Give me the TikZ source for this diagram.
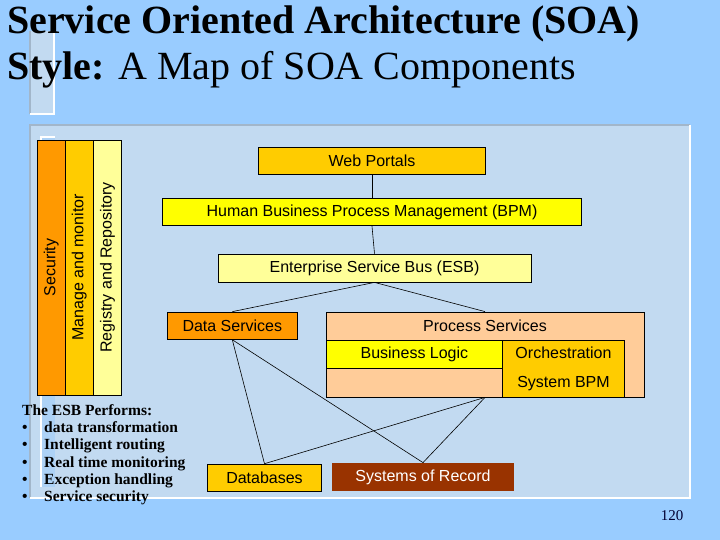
\documentclass[tikz,border=0pt]{standalone}
\usepackage{fontspec}
\setmainfont{Liberation Serif}
\newfontfamily\arialfont{Liberation Sans}
\definecolor{slide}{HTML}{99CCFF}
\definecolor{panel}{HTML}{C2DAF1}
\definecolor{panelrim}{HTML}{A2B6CA}
\definecolor{strip}{HTML}{ADD2F6}
\definecolor{orange}{HTML}{FF9900}
\definecolor{gold}{HTML}{FFCC00}
\definecolor{pale}{HTML}{FFFF99}
\definecolor{lemon}{HTML}{FFFF00}
\definecolor{peach}{HTML}{FFCC99}
\definecolor{brick}{HTML}{993300}
\definecolor{navy}{HTML}{000033}

\begin{document}
\begin{tikzpicture}[x=1pt, y=-1pt,
	box/.style={draw, line width=0.8pt, inner sep=0pt, font=\arialfont\fontsize{16}{18}\selectfont},
	pillar/.style={box, rotate=90, minimum width=255, minimum height=28},
	link/.style={line width=0.6pt}]
	\fill[slide] (0,0) rectangle (720,540);
	\useasboundingbox (0,0) rectangle (720,540);

	\fill[panel] (30,31) rectangle (54,114);
	\draw[panelrim, line width=1.5pt] (30,31) -- (30,114);
	\draw[white, line width=1.5pt] (30,114) -- (54,114) -- (54,31);

	\fill[panel] (30,125) rectangle (690,498);
	\draw[panelrim, line width=2.5pt] (690,125) -- (30,125) -- (30,498);
	\draw[white, line width=2.5pt] (30,498) -- (690,498) -- (690,125);
	\fill[strip] (41,137) rectangle (55,487);
	\draw[white, line width=1.2pt] (41,487) -- (41,137) -- (55,137);

	\node [anchor=base west, inner sep=0pt, font=\bfseries\fontsize{40}{40}\selectfont] (T1) at (7,34) {Service Oriented Architecture (SOA)};
	\node [anchor=base west, inner sep=0pt, font=\fontsize{40}{40}\selectfont] (T2) at (7,80) {\textbf{Style:} A Map of SOA Components};

	\node [pillar, fill=orange] (SEC) at (51.2,267.5) {Security};
	\node [pillar, fill=gold] (MON) at (79.2,267.5) {Manage and monitor};
	\node [pillar, fill=pale] (REG) at (107.5,267.5) {Registry and Repository};

	\node [box, fill=gold, minimum width=227.5, minimum height=27] (WP) at (372,160.7) {Web Portals};
	\node [box, fill=lemon, minimum width=419, minimum height=27.7] (BPM) at (372,211.9) {Human Business Process Management (BPM)};
	\node [box, fill=pale, minimum width=313, minimum height=28] (ESB) at (374.5,268) {Enterprise Service Bus (ESB)};
	\node [box, fill=orange, minimum width=130, minimum height=27.3] (DS) at (232.3,325.7) {Data Services};
	\node [box, fill=peach, minimum width=318, minimum height=85] (PS) at (485,354.5) {};
	\node [font=\arialfont\fontsize{16}{18}\selectfont] (PSL) at (485,326) {Process Services};
	\node [box, fill=lemon, minimum width=176.7, minimum height=28] (BL) at (414.4,354) {Business Logic};
	\node [box, fill=gold, minimum width=121.6, minimum height=57, align=center, font=\arialfont\fontsize{16}{29}\selectfont] (OR) at (563.5,368.5) {Orchestration\\System BPM};
	\node [box, fill=gold, minimum width=114.4, minimum height=27] (DB) at (264.5,477.6) {Databases};
	\node [box, draw=none, fill=brick, text=white, minimum width=182, minimum height=28] (SR) at (423,477) {Systems of Record};

	\draw [link] (WP.south) -- (BPM.north);
	\draw [link] (BPM.south) -- (ESB.north);
	\draw [link] (ESB.south) -- (DS.north);
	\draw [link] (ESB.south) -- (PS.north);
	\draw [link] (DS.south) -- (DB.north);
	\draw [link] (DS.south) -- (SR.north);
	\draw [link] (PS.south) -- (DB.north);
	\draw [link] (PS.south) -- (SR.north);

	\node [anchor=base west, inner sep=0pt, align=left, font=\bfseries\fontsize{15.5}{17.2}\selectfont] (ESBP) at (22,501.5) {The ESB Performs:\\
		\makebox[22pt][l]{\textbullet}data transformation\\
		\makebox[22pt][l]{\textbullet}Intelligent routing\\
		\makebox[22pt][l]{\textbullet}Real time monitoring\\
		\makebox[22pt][l]{\textbullet}Exception handling\\
		\makebox[22pt][l]{\textbullet}Service security};

	\node [text=navy, font=\fontsize{15}{15}\selectfont] (PG) at (672,516) {120};
\end{tikzpicture}
\end{document}
